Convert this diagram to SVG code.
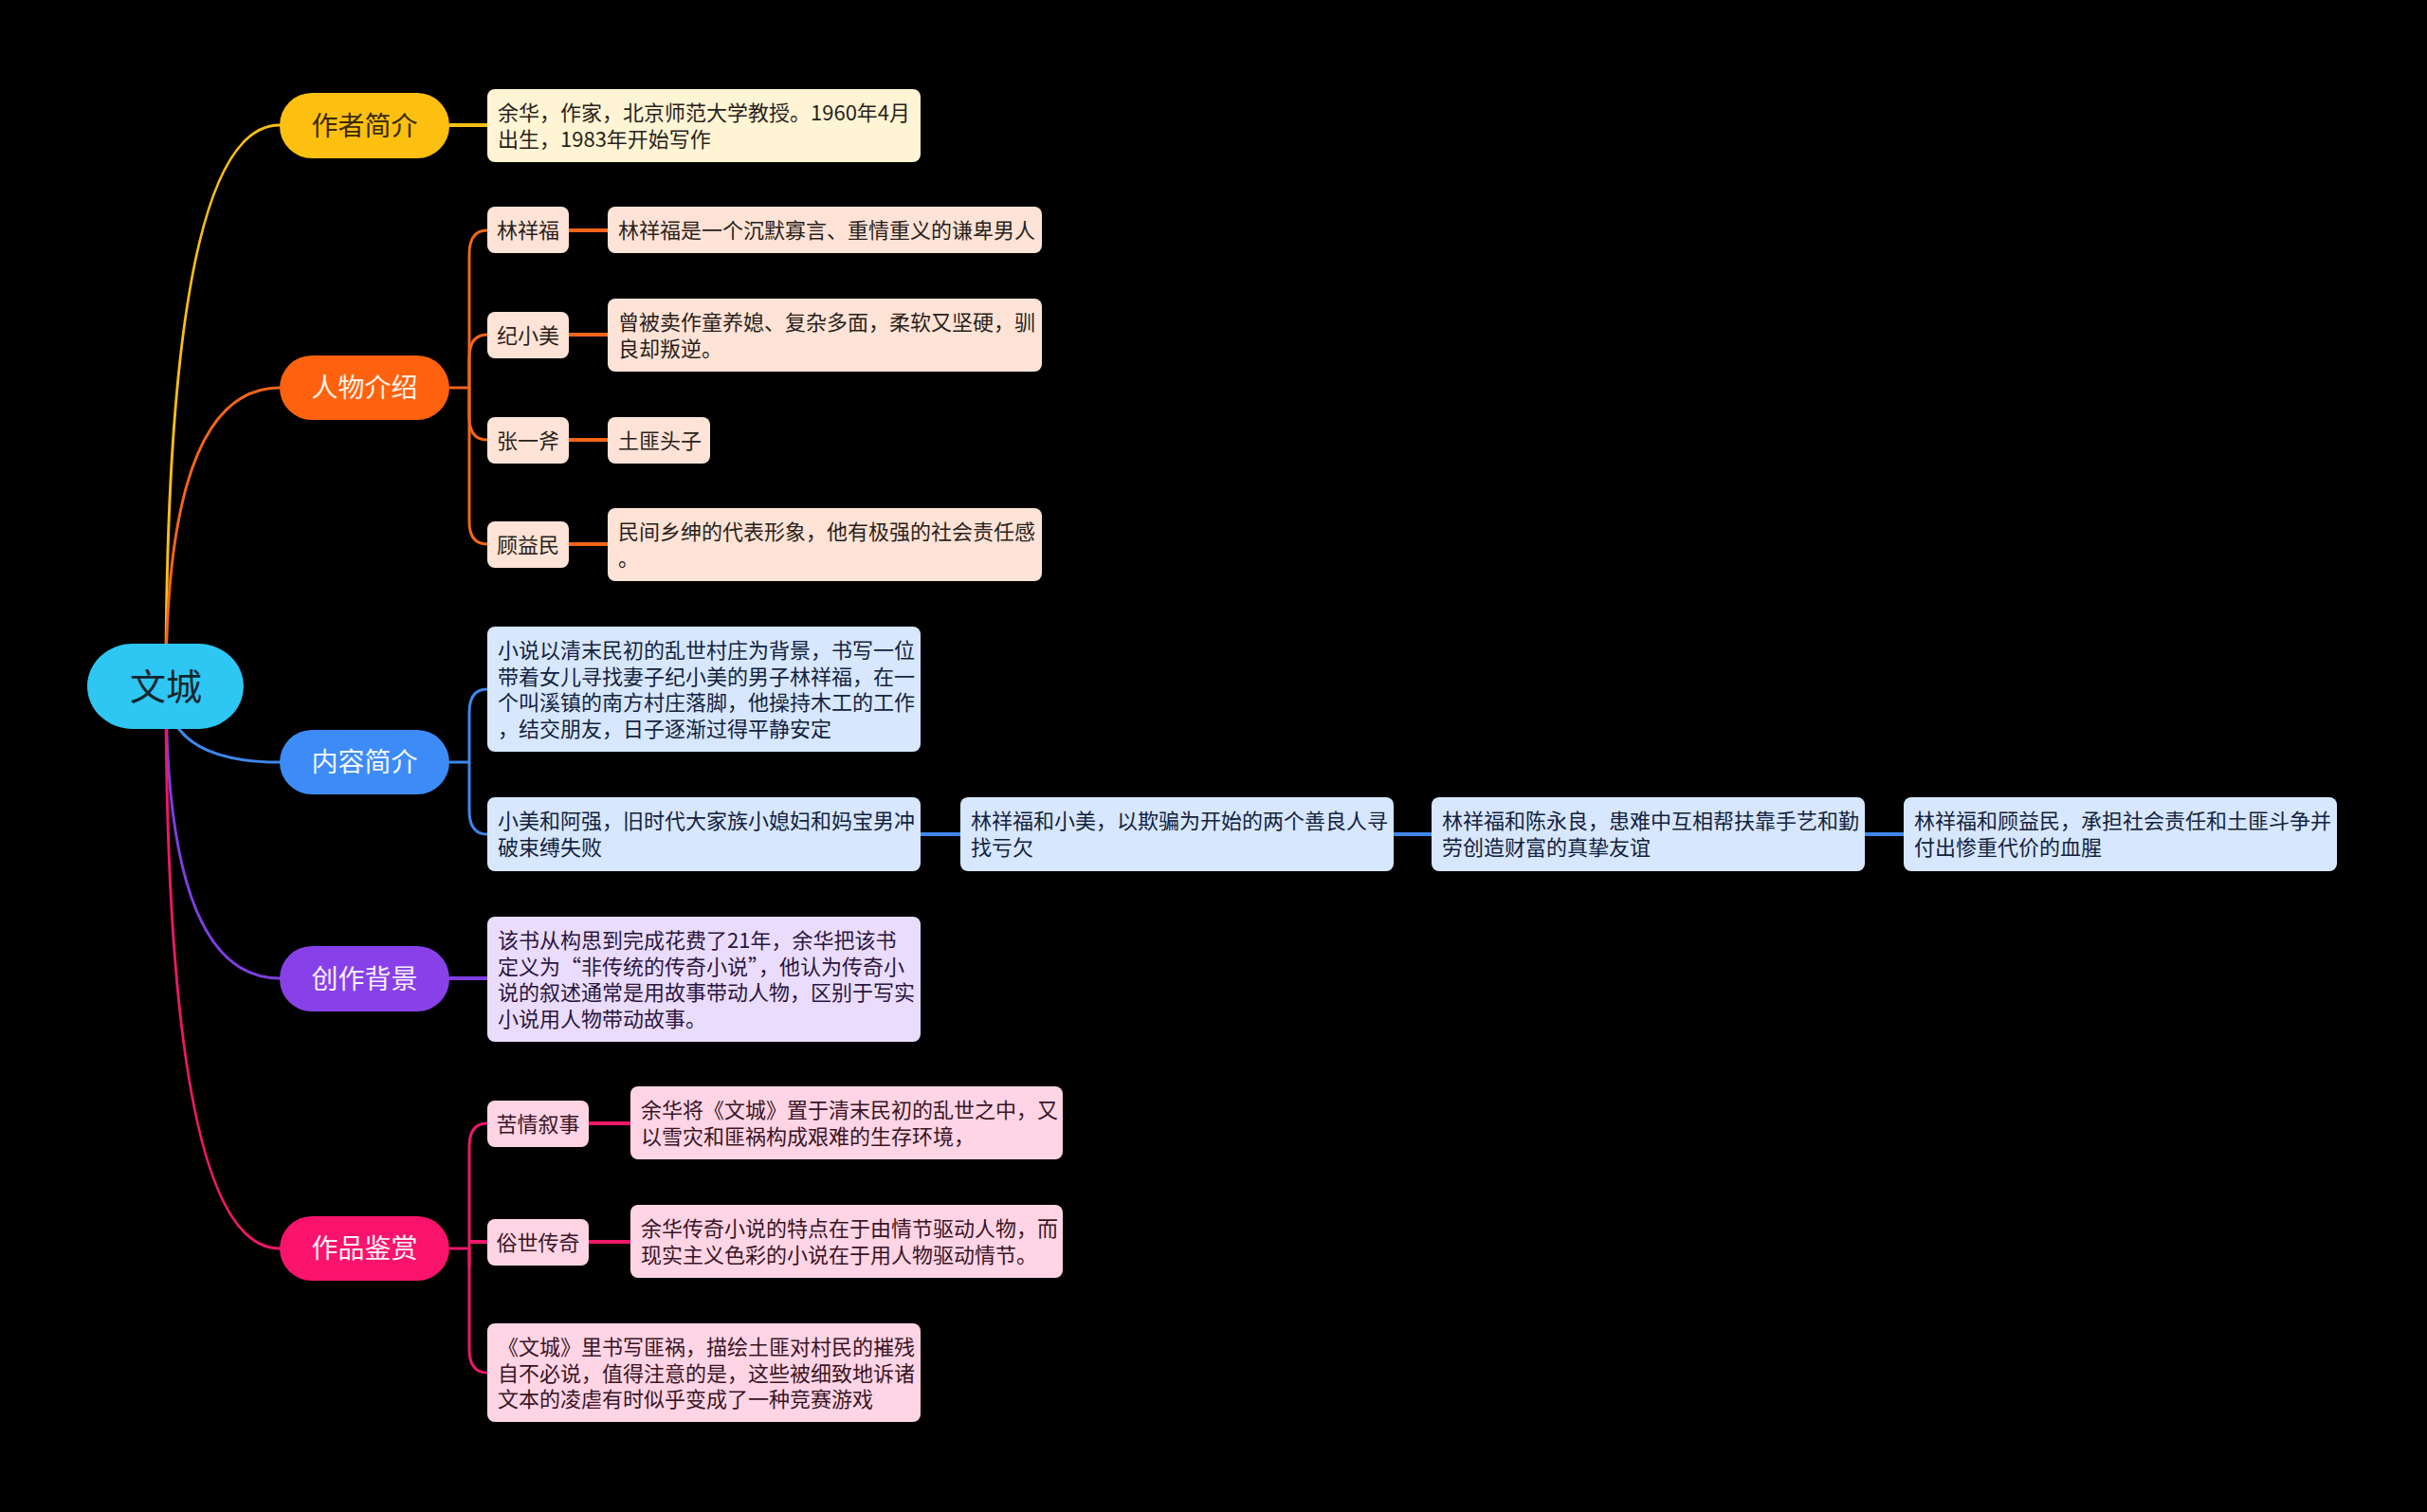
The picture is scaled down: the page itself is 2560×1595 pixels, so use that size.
<svg xmlns="http://www.w3.org/2000/svg" width="2560" height="1595" viewBox="0 0 2560 1595">
<style>
text{font-family:"Noto Sans CJK SC","Microsoft YaHei","Noto Sans",sans-serif}
.t{font-size:22px;fill:#2a1f1a}
.tb{font-size:22px;fill:#13233f}
.tp{font-size:22px;fill:#2b1640}
.tk{font-size:22px;fill:#3a1424}
.pl{font-size:28px;text-anchor:middle}
.c{fill:none;stroke-width:3;stroke-linecap:round}
.c4{fill:none;stroke-width:4}
.yl{stroke:#F9BE18}.or{stroke:#F4651A}.bl{stroke:#3F86EA}.pu{stroke:#7D3FE0}.pk{stroke:#EE1769}
.by{fill:#FFF4D4}.bo{fill:#FFE3D6}.bb{fill:#D7E7FD}.bpu{fill:#EADCFC}.bpk{fill:#FFD5E5}
</style>
<rect width="2560" height="1595" fill="#000"/>
<g id="connectors">
<path class="c yl" d="M175 724 Q175 132 295 132"/>
<path class="c or" d="M175 724 Q175 409 295 409"/>
<path class="c bl" d="M175 724 Q175 804 295 804"/>
<path class="c pu" d="M175 724 Q175 1032 295 1032"/>
<path class="c pk" d="M175 724 Q175 1317 295 1317"/>
<path class="c4 yl" d="M474 132 H514"/>
<path class="c or" d="M474 409 H495 V268 Q495 243 514 243"/>
<path class="c or" d="M495 409 V378 Q495 353 514 353"/>
<path class="c or" d="M495 409 V440 Q495 464 514 464"/>
<path class="c or" d="M495 409 V550 Q495 574 514 574"/>
<path class="c4 or" d="M600 243 H641"/>
<path class="c4 or" d="M600 353 H641"/>
<path class="c4 or" d="M600 464 H641"/>
<path class="c4 or" d="M600 574 H641"/>
<path class="c bl" d="M474 804 H495 V752 Q495 727 514 727"/>
<path class="c bl" d="M495 804 V855 Q495 880 514 880"/>
<path class="c4 bl" d="M971 880 H1013"/>
<path class="c4 bl" d="M1470 880 H1510"/>
<path class="c4 bl" d="M1967 880 H2008"/>
<path class="c4 pu" d="M474 1032 H514"/>
<path class="c pk" d="M474 1317 H495 V1210 Q495 1185 514 1185"/>
<path class="c pk" d="M495 1317 V1335"/>
<path class="c4 pk" d="M495 1310 H514"/>
<path class="c pk" d="M495 1317 V1423 Q495 1448 514 1448"/>
<path class="c4 pk" d="M621 1185 H665"/>
<path class="c4 pk" d="M621 1310 H665"/>
</g>
<g id="root">
<rect x="92" y="679" width="165" height="90" rx="48" ry="45" fill="#2EC6F3"/>
<text x="175" y="738" font-size="38" text-anchor="middle" fill="#14262e">文城</text>
</g>
<g id="n-zuozhe">
<rect x="295" y="98" width="179" height="69" rx="34" fill="#FDC010"/>
<text class="pl" x="384.5" y="142.5" fill="#3a2a05">作者简介</text>
</g>
<g id="n-zuozhe-d">
<rect class="by" x="514" y="94" width="457" height="77" rx="8"/>
<text class="t" x="525" y="127">余华，作家，北京师范大学教授。1960年4月</text>
<text class="t" x="525" y="154.5">出生，1983年开始写作</text>
</g>
<g id="n-renwu">
<rect x="295" y="375" width="179" height="68" rx="34" fill="#FF620F"/>
<text class="pl" x="384.5" y="419" fill="#FFF1E6">人物介绍</text>
</g>
<g id="n-lxf">
<rect class="bo" x="514" y="218" width="86" height="49" rx="8"/>
<text class="t" x="557" y="250.5" text-anchor="middle">林祥福</text>
</g>
<g id="n-lxf-d">
<rect class="bo" x="641" y="218" width="458" height="49" rx="8"/>
<text class="t" x="652" y="250.5">林祥福是一个沉默寡言、重情重义的谦卑男人</text>
</g>
<g id="n-jxm">
<rect class="bo" x="514" y="329" width="86" height="49" rx="8"/>
<text class="t" x="557" y="361.5" text-anchor="middle">纪小美</text>
</g>
<g id="n-jxm-d">
<rect class="bo" x="641" y="315" width="458" height="77" rx="8"/>
<text class="t" x="652" y="348">曾被卖作童养媳、复杂多面，柔软又坚硬，驯</text>
<text class="t" x="652" y="375.5">良却叛逆。</text>
</g>
<g id="n-zyf">
<rect class="bo" x="514" y="440" width="86" height="49" rx="8"/>
<text class="t" x="557" y="472.5" text-anchor="middle">张一斧</text>
</g>
<g id="n-zyf-d">
<rect class="bo" x="641" y="440" width="108" height="49" rx="8"/>
<text class="t" x="652" y="472.5">土匪头子</text>
</g>
<g id="n-gym">
<rect class="bo" x="514" y="550" width="86" height="49" rx="8"/>
<text class="t" x="557" y="582.5" text-anchor="middle">顾益民</text>
</g>
<g id="n-gym-d">
<rect class="bo" x="641" y="536" width="458" height="77" rx="8"/>
<text class="t" x="652" y="569">民间乡绅的代表形象，他有极强的社会责任感</text>
<text class="t" x="652" y="596.5">。</text>
</g>
<g id="n-neirong">
<rect x="295" y="770" width="179" height="68" rx="34" fill="#3D8BF7"/>
<text class="pl" x="384.5" y="814" fill="#F2F7FF">内容简介</text>
</g>
<g id="n-nr-1">
<rect class="bb" x="514" y="661" width="457" height="132" rx="8"/>
<text class="tb" x="525" y="694">小说以清末民初的乱世村庄为背景，书写一位</text>
<text class="tb" x="525" y="721.5">带着女儿寻找妻子纪小美的男子林祥福，在一</text>
<text class="tb" x="525" y="749">个叫溪镇的南方村庄落脚，他操持木工的工作</text>
<text class="tb" x="525" y="776.5">，结交朋友，日子逐渐过得平静安定</text>
</g>
<g id="n-nr-2">
<rect class="bb" x="514" y="841" width="457" height="78" rx="8"/>
<text class="tb" x="525" y="874">小美和阿强，旧时代大家族小媳妇和妈宝男冲</text>
<text class="tb" x="525" y="901.5">破束缚失败</text>
</g>
<g id="n-nr-3">
<rect class="bb" x="1013" y="841" width="457" height="78" rx="8"/>
<text class="tb" x="1024" y="874">林祥福和小美，以欺骗为开始的两个善良人寻</text>
<text class="tb" x="1024" y="901.5">找亏欠</text>
</g>
<g id="n-nr-4">
<rect class="bb" x="1510" y="841" width="457" height="78" rx="8"/>
<text class="tb" x="1521" y="874">林祥福和陈永良，患难中互相帮扶靠手艺和勤</text>
<text class="tb" x="1521" y="901.5">劳创造财富的真挚友谊</text>
</g>
<g id="n-nr-5">
<rect class="bb" x="2008" y="841" width="457" height="78" rx="8"/>
<text class="tb" x="2019" y="874">林祥福和顾益民，承担社会责任和土匪斗争并</text>
<text class="tb" x="2019" y="901.5">付出惨重代价的血腥</text>
</g>
<g id="n-chuangzuo">
<rect x="295" y="998" width="179" height="69" rx="34" fill="#8841E8"/>
<text class="pl" x="384.5" y="1042.5" fill="#F6EEFF">创作背景</text>
</g>
<g id="n-cz-d">
<rect class="bpu" x="514" y="967" width="457" height="132" rx="8"/>
<text class="tp" x="525" y="1000">该书从构思到完成花费了21年，余华把该书</text>
<text class="tp" x="525" y="1027.5">定义为“非传统的传奇小说”，他认为传奇小</text>
<text class="tp" x="525" y="1055">说的叙述通常是用故事带动人物，区别于写实</text>
<text class="tp" x="525" y="1082.5">小说用人物带动故事。</text>
</g>
<g id="n-jianshang">
<rect x="295" y="1283" width="179" height="68" rx="34" fill="#F9136D"/>
<text class="pl" x="384.5" y="1327" fill="#FFF0F5">作品鉴赏</text>
</g>
<g id="n-kq">
<rect class="bpk" x="514" y="1161" width="107" height="49" rx="8"/>
<text class="tk" x="567.5" y="1193.5" text-anchor="middle">苦情叙事</text>
</g>
<g id="n-kq-d">
<rect class="bpk" x="665" y="1146" width="456" height="77" rx="8"/>
<text class="tk" x="676" y="1179">余华将《文城》置于清末民初的乱世之中，又</text>
<text class="tk" x="676" y="1206.5">以雪灾和匪祸构成艰难的生存环境，</text>
</g>
<g id="n-ss">
<rect class="bpk" x="514" y="1286" width="107" height="49" rx="8"/>
<text class="tk" x="567.5" y="1318.5" text-anchor="middle">俗世传奇</text>
</g>
<g id="n-ss-d">
<rect class="bpk" x="665" y="1271" width="456" height="77" rx="8"/>
<text class="tk" x="676" y="1304">余华传奇小说的特点在于由情节驱动人物，而</text>
<text class="tk" x="676" y="1331.5">现实主义色彩的小说在于用人物驱动情节。</text>
</g>
<g id="n-wc-d">
<rect class="bpk" x="514" y="1396" width="457" height="104" rx="8"/>
<text class="tk" x="525" y="1429">《文城》里书写匪祸，描绘土匪对村民的摧残</text>
<text class="tk" x="525" y="1456.5">自不必说，值得注意的是，这些被细致地诉诸</text>
<text class="tk" x="525" y="1484">文本的凌虐有时似乎变成了一种竞赛游戏</text>
</g>
</svg>
